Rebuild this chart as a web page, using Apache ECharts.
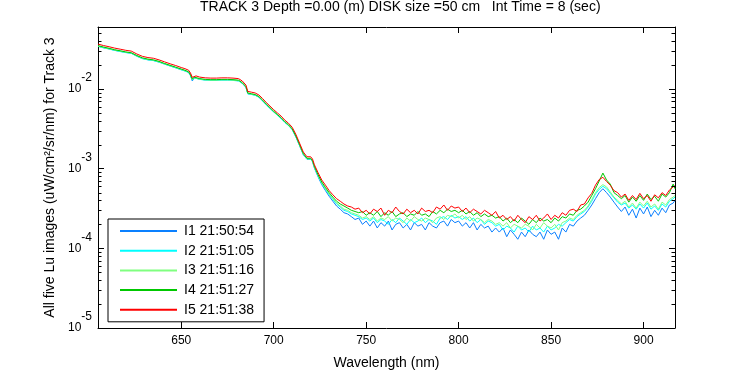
<!DOCTYPE html>
<html><head><meta charset="utf-8">
<script src="https://cdn.jsdelivr.net/npm/echarts@6/dist/echarts.min.js"></script>
<style>html,body{margin:0;padding:0;background:#fff}#c{width:750px;height:375px}</style>
</head><body><div id="c"></div>
<script>
const wavelength = [605,608,611,614,617,620,623,626,629,632,635,638,641,644,647,650,652,654,655,656,657,658,660,663,666,669,672,675,678,681,683,685,686,687,688,690,692,694,696,698,700,702,704,706,708,710,712,714,716,718,719,720,721,722,724,726,728,730,732,734,736,738,740,
742,744,746,748,750,752,754,756,758,760,762,764,766,768,770,772,774,776,778,780,782,784,786,788,790,792,794,796,798,800,802,804,806,808,810,812,814,816,818,820,822,824,826,828,830,832,834,836,838,840,842,844,846,848,850,852,854,856,858,860,862,864,866,868,870,872,874,876,878,880,882,884,886,888,890,892,894,896,898,900,902,904,906,908,910,912,914,916,917];

const seriesNames = ['I1 21:50:54','I2 21:51:05','I3 21:51:16','I4 21:51:27','I5 21:51:38'];
const seriesColors = ['#0a80ff','#00ffff','#80ff80','#00c800','#ff0000'];

const I1 = [0.0344,0.0330,0.0319,0.0306,0.0297,0.0288,0.0281,0.0259,0.0242,0.0233,0.0228,0.0218,0.0206,0.0195,0.0185,0.0175,0.0169,0.0162,0.0147,0.0126,0.0138,0.0137,0.0133,0.0130,0.0129,0.0129,0.0130,0.0130,0.0129,0.0127,0.0118,0.0105,0.00870,0.00857,0.00857,0.00838,0.00790,0.00713,0.00635,0.00573,0.00517,0.00471,0.00430,0.00383,0.00350,0.00311,0.00250,0.00194,0.00150,0.00131,0.00128,0.00131,0.00122,0.00102,7.9e-4,6.3e-4,5.3e-4,4.5e-4,3.9e-4,3.4e-4,3.1e-4,2.8e-4,2.7e-4,
2.5e-4,2.3e-4,2.4e-4,2.0e-4,2.2e-4,1.9e-4,2.2e-4,1.8e-4,2.1e-4,1.9e-4,
2.2e-4,1.7e-4,2.0e-4,2.1e-4,1.8e-4,2.0e-4,1.7e-4,2.1e-4,1.9e-4,2.0e-4,
1.7e-4,2.1e-4,1.9e-4,1.8e-4,2.1e-4,2.2e-4,1.9e-4,2.3e-4,2.1e-4,2.2e-4,
1.9e-4,2.1e-4,1.8e-4,2.1e-4,1.7e-4,2.0e-4,1.8e-4,1.9e-4,1.6e-4,1.8e-4,
1.6e-4,1.8e-4,1.4e-4,1.7e-4,1.5e-4,1.3e-4,1.6e-4,1.4e-4,1.7e-4,1.5e-4,
1.4e-4,1.6e-4,1.3e-4,1.7e-4,1.5e-4,1.6e-4,1.3e-4,1.8e-4,1.6e-4,2.0e-4,
1.9e-4,2.2e-4,2.4e-4,2.6e-4,3.0e-4,3.5e-4,4.2e-4,5.0e-4,5.6e-4,5.0e-4,
4.4e-4,3.8e-4,3.3e-4,2.9e-4,3.3e-4,2.6e-4,3.1e-4,2.4e-4,3.2e-4,2.7e-4,
3.3e-4,2.5e-4,3.0e-4,2.6e-4,3.2e-4,2.8e-4,3.5e-4,3.7e-4,4.0e-4];

const I2 = [0.0342,0.0328,0.0317,0.0305,0.0295,0.0286,0.0280,0.0257,0.0240,0.0232,0.0227,0.0217,0.0205,0.0194,0.0184,0.0174,0.0168,0.0161,0.0148,0.0129,0.0138,0.0136,0.0132,0.0129,0.0128,0.0128,0.0129,0.0129,0.0128,0.0126,0.0118,0.0105,0.00872,0.00853,0.00853,0.00833,0.00786,0.00710,0.00632,0.00570,0.00514,0.00468,0.00427,0.00381,0.00348,0.00309,0.00252,0.00195,0.00151,0.00132,0.00129,0.00132,0.00123,0.00104,8.1e-4,6.5e-4,5.5e-4,4.7e-4,4.1e-4,3.6e-4,3.3e-4,3.0e-4,2.9e-4,
2.7e-4,2.6e-4,2.5e-4,2.3e-4,2.4e-4,2.2e-4,2.4e-4,2.1e-4,2.3e-4,2.2e-4,
2.0e-4,2.3e-4,2.1e-4,2.4e-4,2.2e-4,2.0e-4,2.3e-4,2.1e-4,2.2e-4,2.4e-4,
2.1e-4,2.3e-4,2.2e-4,2.0e-4,2.4e-4,2.5e-4,2.3e-4,2.6e-4,2.4e-4,2.5e-4,
2.3e-4,2.5e-4,2.2e-4,2.4e-4,2.1e-4,2.3e-4,2.0e-4,2.2e-4,2.1e-4,1.9e-4,
2.0e-4,1.7e-4,1.9e-4,1.8e-4,1.6e-4,1.9e-4,1.7e-4,1.8e-4,1.6e-4,1.9e-4,
1.7e-4,1.8e-4,1.6e-4,1.9e-4,1.7e-4,1.8e-4,2.0e-4,1.9e-4,2.1e-4,2.3e-4,
2.2e-4,2.5e-4,2.7e-4,2.9e-4,3.3e-4,3.9e-4,4.8e-4,5.5e-4,6.0e-4,5.6e-4,
4.9e-4,4.3e-4,3.8e-4,3.5e-4,3.7e-4,3.2e-4,3.5e-4,3.1e-4,3.6e-4,3.2e-4,
3.7e-4,3.1e-4,3.4e-4,3.0e-4,3.6e-4,3.3e-4,3.9e-4,4.2e-4,4.4e-4];

const I3 = [0.0346,0.0332,0.0320,0.0308,0.0299,0.0289,0.0283,0.0260,0.0243,0.0234,0.0230,0.0219,0.0207,0.0196,0.0186,0.0176,0.0170,0.0163,0.0150,0.0131,0.0139,0.0138,0.0133,0.0130,0.0129,0.0129,0.0130,0.0130,0.0129,0.0128,0.0119,0.0106,0.00880,0.00862,0.00862,0.00842,0.00795,0.00717,0.00639,0.00576,0.00520,0.00473,0.00432,0.00385,0.00352,0.00313,0.00254,0.00197,0.00152,0.00133,0.00130,0.00133,0.00124,0.00105,8.2e-4,6.6e-4,5.6e-4,4.8e-4,4.2e-4,3.7e-4,3.4e-4,3.1e-4,3.0e-4,
2.8e-4,2.7e-4,2.6e-4,2.4e-4,2.5e-4,2.3e-4,2.5e-4,2.2e-4,2.4e-4,2.3e-4,
2.5e-4,2.2e-4,2.4e-4,2.3e-4,2.1e-4,2.4e-4,2.2e-4,2.5e-4,2.3e-4,2.2e-4,
2.4e-4,2.3e-4,2.1e-4,2.4e-4,2.5e-4,2.3e-4,2.6e-4,2.5e-4,2.7e-4,2.4e-4,
2.6e-4,2.3e-4,2.5e-4,2.2e-4,2.4e-4,2.3e-4,2.1e-4,2.3e-4,2.2e-4,2.0e-4,
2.1e-4,1.9e-4,2.1e-4,1.8e-4,2.0e-4,1.9e-4,1.8e-4,2.0e-4,1.9e-4,1.7e-4,
2.0e-4,1.8e-4,2.1e-4,1.9e-4,1.8e-4,2.0e-4,1.7e-4,2.1e-4,2.2e-4,2.4e-4,
2.3e-4,2.6e-4,2.8e-4,3.0e-4,3.4e-4,4.1e-4,5.0e-4,5.8e-4,6.3e-4,5.9e-4,
5.1e-4,4.4e-4,4.0e-4,3.6e-4,3.9e-4,3.3e-4,3.7e-4,3.2e-4,3.8e-4,3.4e-4,
3.9e-4,3.3e-4,3.6e-4,3.1e-4,3.8e-4,3.5e-4,4.1e-4,4.4e-4,4.6e-4];

const I4 = [0.0350,0.0336,0.0324,0.0311,0.0302,0.0292,0.0285,0.0263,0.0246,0.0237,0.0232,0.0222,0.0209,0.0198,0.0188,0.0178,0.0172,0.0164,0.0151,0.0133,0.0141,0.0139,0.0135,0.0132,0.0131,0.0131,0.0132,0.0132,0.0131,0.0129,0.0120,0.0107,0.00890,0.00871,0.00871,0.00851,0.00803,0.00725,0.00646,0.00583,0.00525,0.00478,0.00436,0.00389,0.00355,0.00316,0.00257,0.00200,0.00155,0.00135,0.00132,0.00135,0.00126,0.00107,8.4e-4,6.8e-4,5.8e-4,5.0e-4,4.4e-4,3.9e-4,3.6e-4,3.4e-4,3.2e-4,
3.0e-4,2.9e-4,2.8e-4,2.9e-4,2.6e-4,2.8e-4,2.6e-4,2.9e-4,2.5e-4,2.8e-4,
2.6e-4,2.9e-4,2.5e-4,2.7e-4,2.8e-4,2.5e-4,2.7e-4,2.6e-4,2.9e-4,2.6e-4,
2.7e-4,2.5e-4,2.9e-4,2.7e-4,3.0e-4,2.8e-4,3.1e-4,2.9e-4,3.0e-4,2.8e-4,
3.0e-4,2.7e-4,2.9e-4,2.6e-4,2.8e-4,2.5e-4,2.7e-4,2.5e-4,2.6e-4,2.4e-4,
2.5e-4,2.2e-4,2.4e-4,2.1e-4,2.3e-4,2.1e-4,2.4e-4,2.2e-4,2.0e-4,2.3e-4,
2.1e-4,2.4e-4,2.2e-4,2.3e-4,2.1e-4,2.4e-4,2.2e-4,2.5e-4,2.4e-4,2.7e-4,
2.6e-4,3.0e-4,3.1e-4,3.4e-4,3.8e-4,4.6e-4,5.6e-4,7.0e-4,8.8e-4,7.2e-4,
6.4e-4,5.0e-4,4.6e-4,4.2e-4,4.6e-4,3.8e-4,4.4e-4,3.9e-4,4.6e-4,4.0e-4,
4.8e-4,4.1e-4,4.5e-4,3.9e-4,4.8e-4,4.4e-4,5.0e-4,6.4e-4,5.6e-4];

const I5 = [0.0366,0.0351,0.0339,0.0326,0.0316,0.0306,0.0299,0.0275,0.0257,0.0248,0.0243,0.0232,0.0219,0.0207,0.0197,0.0186,0.0180,0.0172,0.0159,0.0140,0.0148,0.0146,0.0141,0.0138,0.0137,0.0137,0.0138,0.0138,0.0137,0.0135,0.0126,0.0112,0.00933,0.00912,0.00912,0.00891,0.00841,0.00759,0.00676,0.00610,0.00550,0.00501,0.00457,0.00407,0.00372,0.00331,0.00269,0.00209,0.00162,0.00141,0.00138,0.00141,0.00132,0.00112,8.9e-4,7.2e-4,6.2e-4,5.3e-4,4.7e-4,4.2e-4,3.9e-4,3.6e-4,3.4e-4,
3.3e-4,3.1e-4,3.2e-4,2.8e-4,3.0e-4,2.7e-4,3.1e-4,2.9e-4,3.2e-4,2.6e-4,
3.0e-4,2.8e-4,3.3e-4,2.9e-4,2.7e-4,3.1e-4,2.8e-4,3.0e-4,2.7e-4,3.2e-4,
2.9e-4,3.0e-4,2.8e-4,3.3e-4,3.1e-4,3.5e-4,3.0e-4,3.4e-4,3.2e-4,3.3e-4,
2.9e-4,3.2e-4,2.8e-4,3.1e-4,2.9e-4,2.7e-4,3.0e-4,2.8e-4,2.6e-4,2.9e-4,
2.4e-4,2.6e-4,2.3e-4,2.5e-4,2.2e-4,2.6e-4,2.3e-4,2.1e-4,2.5e-4,2.3e-4,
2.6e-4,2.2e-4,2.4e-4,2.7e-4,2.3e-4,2.6e-4,2.4e-4,2.8e-4,2.6e-4,3.0e-4,
3.1e-4,2.9e-4,3.5e-4,3.6e-4,4.3e-4,4.9e-4,6.2e-4,7.3e-4,7.8e-4,6.9e-4,
6.2e-4,5.3e-4,5.0e-4,4.4e-4,4.8e-4,4.0e-4,4.6e-4,4.1e-4,4.9e-4,4.2e-4,
4.6e-4,3.9e-4,4.7e-4,4.3e-4,5.0e-4,4.6e-4,5.4e-4,5.9e-4,6.1e-4];

const seriesValues = [I1, I2, I3, I4, I5];

const yMinorTicks = [2e-5,3e-5,4e-5,5e-5,6e-5,7e-5,8e-5,9e-5,
  2e-4,3e-4,4e-4,5e-4,6e-4,7e-4,8e-4,9e-4,
  2e-3,3e-3,4e-3,5e-3,6e-3,7e-3,8e-3,9e-3,
  2e-2,3e-2,4e-2,5e-2];

const X_MIN = 605, X_MAX = 917, Y_MIN = 1e-5, Y_MAX = 0.06;
const FONT = '"Liberation Sans", Arial, Helvetica, sans-serif';

const chart = echarts.init(document.getElementById('c'), null, {renderer: 'canvas'});

const lineSeries = seriesNames.map((name, i) => ({
  name: name,
  type: 'line',
  xAxisIndex: 0, yAxisIndex: 0,
  data: wavelength.map((w, k) => [w, seriesValues[i][k]]),
  symbol: 'none', showSymbol: false,
  lineStyle: {color: seriesColors[i], width: 1},
  itemStyle: {color: seriesColors[i]},
  emphasis: {disabled: true},
  animation: false,
  z: 2 + i
}));

const minorTickSeries = {
  type: 'custom',
  name: 'minorTicks',
  xAxisIndex: 0, yAxisIndex: 0,
  silent: true,
  animation: false,
  z: 20,
  data: yMinorTicks.map(v => [X_MIN, v]),
  renderItem: function (params, api) {
    const v = api.value(1);
    const l = api.coord([X_MIN, v]);
    const r = api.coord([X_MAX, v]);
    const y = Math.round(l[1]) + 0.5;
    return {type: 'group', children: [
      {type: 'line', shape: {x1: l[0], y1: y, x2: l[0] + 3.5, y2: y}, style: {stroke: '#000', lineWidth: 1}},
      {type: 'line', shape: {x1: r[0], y1: y, x2: r[0] - 3.5, y2: y}, style: {stroke: '#000', lineWidth: 1}}
    ]};
  }
};

const axisCommonLine = {show: true, lineStyle: {color: '#000', width: 1}};

const option = {
  backgroundColor: '#fff',
  animation: false,
  textStyle: {fontFamily: FONT, color: '#000'},
  title: {
    text: 'TRACK 3 Depth =0.00 (m) DISK size =50 cm   Int Time = 8 (sec)',
    left: 200, top: 0,
    padding: 0,
    textStyle: {fontSize: 14, fontWeight: 'normal', color: '#000', fontFamily: FONT}
  },
  grid: {left: 98, right: 75, top: 27, bottom: 44, containLabel: false},
  legend: {
    data: seriesNames,
    orient: 'vertical',
    left: 108, top: 219,
    itemWidth: 57, itemHeight: 14, itemGap: 5.7,
    padding: [5, 10, 5, 11],
    borderColor: '#000', borderWidth: 1, borderRadius: 0,
    backgroundColor: '#fff',
    selectedMode: false,
    itemStyle: {opacity: 0, borderWidth: 0},
    textStyle: {fontSize: 14, color: '#000', fontFamily: FONT, padding: [0, 0, 0, 2]}
  },
  xAxis: [{
    type: 'value', min: X_MIN, max: X_MAX, position: 'bottom',
    name: 'Wavelength (nm)', nameLocation: 'middle', nameGap: 28,
    nameTextStyle: {fontSize: 14, color: '#000', fontFamily: FONT},
    axisLine: axisCommonLine,
    axisTick: {show: true, inside: true, length: 6, lineStyle: {color: '#000'}},
    axisLabel: {fontSize: 12, color: '#000', fontFamily: FONT, margin: 7, showMinLabel: false, showMaxLabel: false},
    splitLine: {show: false}
  }, {
    type: 'value', min: X_MIN, max: X_MAX, position: 'top',
    axisLine: axisCommonLine,
    axisTick: {show: true, inside: true, length: 6, lineStyle: {color: '#000'}},
    axisLabel: {show: false},
    splitLine: {show: false}
  }],
  yAxis: [{
    type: 'log', logBase: 10, min: Y_MIN, max: Y_MAX, position: 'left',
    name: 'All five Lu images (uW/cm²/sr/nm) for Track 3',
    nameLocation: 'middle', nameGap: 40,
    nameTextStyle: {fontSize: 14, color: '#000', fontFamily: FONT},
    axisLine: axisCommonLine,
    axisTick: {show: true, inside: true, length: 6, lineStyle: {color: '#000'}},
    minorTick: {show: false},
    axisLabel: {
      margin: 6,
      showMinLabel: true, showMaxLabel: false,
      padding: [0, 0, 11, 0],
      formatter: function (v) {
        return '{b|10}{s|' + Math.round(Math.log10(v)) + '}';
      },
      rich: {
        b: {fontSize: 12, color: '#000', fontFamily: FONT, verticalAlign: 'bottom'},
        s: {fontSize: 12, color: '#000', fontFamily: FONT, verticalAlign: 'bottom', padding: [0, 0, 11, 0]}
      }
    },
    splitLine: {show: false}
  }, {
    type: 'log', logBase: 10, min: Y_MIN, max: Y_MAX, position: 'right',
    axisLine: axisCommonLine,
    axisTick: {show: true, inside: true, length: 6, lineStyle: {color: '#000'}},
    axisLabel: {show: false},
    splitLine: {show: false}
  }],
  series: lineSeries.concat([minorTickSeries])
};

chart.setOption(option);
</script>
</body></html>
